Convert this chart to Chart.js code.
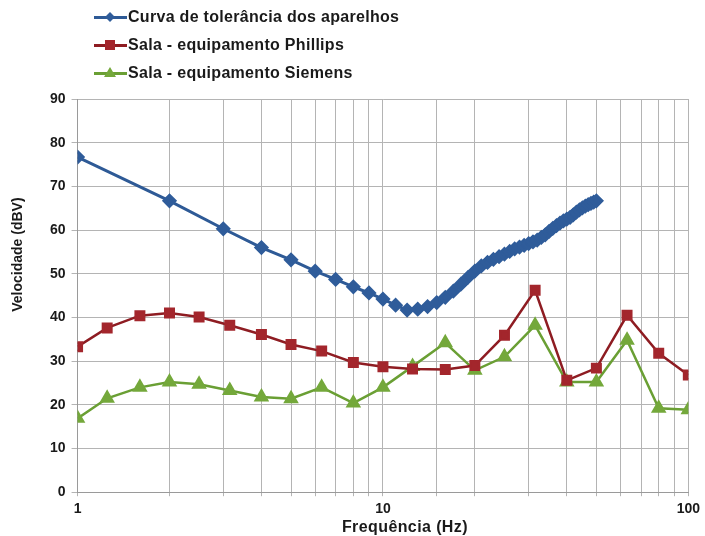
<!DOCTYPE html>
<html>
<head>
<meta charset="utf-8">
<script src="https://cdn.jsdelivr.net/npm/chart.js@4"></script>
<style>
html,body{margin:0;padding:0;background:#fff;}
#caixa{position:relative;width:705px;height:536px;}
#legenda{position:absolute;left:94px;top:3px;font-family:"Liberation Sans",Arial,sans-serif;font-weight:bold;font-size:16px;color:#1a1a1a;letter-spacing:0.3px;}
.item{display:flex;align-items:center;height:28px;}
.amostra{position:relative;width:33px;height:12px;margin-right:1px;}
.amostra .linha{position:absolute;left:0;right:0;top:5px;height:2.5px;}
.amostra .ponto{position:absolute;left:11px;top:1px;width:10px;height:10px;}
</style>
</head>
<body>
<div id="caixa">
<canvas id="grafico" width="705" height="536"></canvas>
<div id="legenda"></div>
</div>
<script>

/* =====================================
   DADOS
===================================== */

const nomes = [
    "Curva de tolerância dos aparelhos",
    "Sala - equipamento Phillips",
    "Sala - equipamento Siemens"
];

const tituloX = "Frequência (Hz)";
const tituloY = "Velocidade (dBV)";

// frequencias da curva de tolerancia (Hz)
const freqTolerancia = [
    1,2,3,4,5,6,7,8,9,10,
    11,12,13,14,15,16,17,18,19,20,
    21,22,23,24,25,26,27,28,29,30,
    31,32,33,34,35,36,37,38,39,40,
    41,42,43,44,45,46,47,48,49,50
];

const valTolerancia = [
    76.7,66.7,60.3,56.0,53.2,50.6,48.7,47.0,45.6,44.2,
    42.8,41.7,41.9,42.5,43.4,44.6,46.0,47.6,49.2,50.6,
    51.8,52.6,53.3,53.9,54.5,55.1,55.7,56.1,56.5,56.9,
    57.3,57.7,58.3,58.9,59.7,60.4,61.0,61.6,62.1,62.5,
    62.9,63.5,64.1,64.6,65.1,65.5,65.8,66.1,66.4,66.7
];

// bandas de 1/3 de oitava (Hz)
const freqSala = [
    1,1.25,1.6,2,2.5,3.15,4,5,6.3,8,
    10,12.5,16,20,25,31.5,40,50,63,80,100
];

const valPhillips = [
    33.3,37.6,40.4,41.0,40.1,38.2,36.1,33.8,32.3,29.7,
    28.7,28.2,28.1,29.0,35.9,46.2,25.6,28.4,40.5,31.8,26.8
];

const valSiemens = [
    16.9,21.5,24.0,25.2,24.7,23.3,21.8,21.4,24.0,20.4,
    24.0,28.8,34.2,27.9,31.0,38.2,25.2,25.2,34.8,19.2,18.9
];

const marcasX = [1,10,100];

/* =====================================
   MONTAR PONTOS
===================================== */

function pontos(xs, ys){

    return xs.map((x,i)=>({x:x, y:ys[i]}));

}

const familia = '"Liberation Sans", Arial, sans-serif';

const fonte = {
    family:familia,
    size:14,
    weight:"bold"
};

const cores = [
    {linha:"#2e5a96", ponto:"#2f5c9a", forma:"rectRot", raio:5.5, largura:3},
    {linha:"#8e1c22", ponto:"#a3262c", forma:"rect", raio:6, largura:2.5},
    {linha:"#6a9f34", ponto:"#74a83b", forma:"triangle", raio:6.5, largura:2.5}
];

const series = [
    pontos(freqTolerancia, valTolerancia),
    pontos(freqSala, valPhillips),
    pontos(freqSala, valSiemens)
];

/* =====================================
   TITULOS DOS EIXOS
   (desenhados a mao, fora do centro)
===================================== */

const titulosEixos = {

    id:"titulosEixos",

    afterDraw(chart){

        const ctx = chart.ctx;
        const area = chart.chartArea;

        ctx.save();
        ctx.fillStyle = "#1a1a1a";
        ctx.textAlign = "center";
        ctx.textBaseline = "middle";

        ctx.font = "bold 16px " + familia;
        ctx.letterSpacing = "0.4px";
        ctx.fillText(
            tituloX,
            (area.left + area.right)/2 + 22,
            528
        );

        ctx.font = "bold 14px " + familia;
        ctx.letterSpacing = "0px";
        ctx.translate(18, (area.top + area.bottom)/2 - 41);
        ctx.rotate(-Math.PI/2);
        ctx.fillText(tituloY, 0, 0);

        ctx.restore();

    }

};

/* =====================================
   GRAFICO
===================================== */

const grafico = new Chart(

    document.getElementById("grafico"),

    {

        type:"line",

        data:{

            datasets: series.map((dados,i)=>({

                label:nomes[i],

                data:dados,

                borderColor:cores[i].linha,

                backgroundColor:cores[i].ponto,

                pointBackgroundColor:cores[i].ponto,

                pointBorderColor:cores[i].ponto,

                pointStyle:cores[i].forma,

                pointRadius:cores[i].raio,

                borderWidth:cores[i].largura,

                tension:0,

                fill:false

            }))

        },

        plugins:[titulosEixos],

        options:{

            responsive:false,

            animation:false,

            layout:{
                padding:{top:99, left:44, right:12, bottom:13}
            },

            plugins:{

                legend:{display:false},

                tooltip:{enabled:false}

            },

            scales:{

                x:{

                    type:"logarithmic",

                    min:1,

                    max:100,

                    grid:{
                        color:"#b4b4b4",
                        lineWidth:1,
                        tickLength:4
                    },

                    border:{color:"#9a9a9a"},

                    ticks:{
                        autoSkip:false,
                        maxRotation:0,
                        padding:5,
                        color:"#1a1a1a",
                        font:fonte,
                        callback:(v)=> marcasX.includes(v) ? String(v) : ""
                    }

                },

                y:{

                    min:0,

                    max:90,

                    grid:{
                        color:"#b4b4b4",
                        lineWidth:1,
                        tickLength:6
                    },

                    border:{color:"#9a9a9a"},

                    ticks:{
                        stepSize:10,
                        padding:6,
                        color:"#1a1a1a",
                        font:fonte
                    }

                }

            }

        }

    }

);

/* =====================================
   LEGENDA VERTICAL
===================================== */

const legenda = document.getElementById("legenda");

grafico.data.datasets.forEach((ds,i)=>{

    const item = document.createElement("div");
    item.className = "item";

    const amostra = document.createElement("div");
    amostra.className = "amostra";

    const linha = document.createElement("div");
    linha.className = "linha";
    linha.style.background = cores[i].linha;
    amostra.appendChild(linha);

    const ponto = document.createElement("div");
    ponto.className = "ponto";

    if(cores[i].forma === "rectRot"){
        ponto.style.background = cores[i].ponto;
        ponto.style.transform = "rotate(45deg) scale(0.7)";
    }
    else if(cores[i].forma === "rect"){
        ponto.style.background = cores[i].ponto;
    }
    else{
        ponto.style.width = "0";
        ponto.style.height = "0";
        ponto.style.left = "10px";
        ponto.style.top = "0px";
        ponto.style.borderLeft = "6px solid transparent";
        ponto.style.borderRight = "6px solid transparent";
        ponto.style.borderBottom = "10px solid " + cores[i].ponto;
    }

    amostra.appendChild(ponto);

    const texto = document.createElement("span");
    texto.textContent = ds.label;

    item.appendChild(amostra);
    item.appendChild(texto);

    legenda.appendChild(item);

});

</script>
</body>
</html>
